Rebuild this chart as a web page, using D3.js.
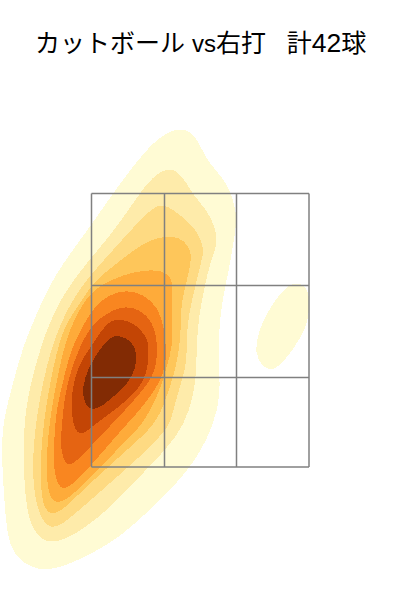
<!DOCTYPE html>
<html><head><meta charset="utf-8">
<script src="https://cdn.jsdelivr.net/npm/d3@7"></script>
<style>html,body{margin:0;padding:0;background:#fff}svg{display:block}</style>
</head><body><svg id="c" width="400" height="600"></svg>
<script>
const titleParts = ["カットボール ","vs","右打\u00a0\u00a0\u00a0計","42","球"];
const titleSizes = [25,24,25,26.5,25];
const zoneX = [-108.5,-35.5,36.5,109];
const zoneY = [0,89.5,181.5,273.5];
const bandColors = ["#fffbd4","#feebaa","#feda82","#fec65a","#feab3a","#f98620","#e56412","#c34505","#822b04"];
const band1 = [[-20,339],[-8,335],[0,322],[8,305],[22,290],[30,277],[35,260],[37,245],[33,222],[29,197],[22,167],[18,127],[19,97],[20,82],[18,57],[7,27],[-7,4],[-23,-16],[-50,-43],[-80,-70],[-107,-86],[-137,-100],[-157,-104],[-177,-97],[-191,-80],[-195,-46],[-199,20],[-196,50],[-187,84],[-177,121],[-163,154],[-146,192],[-110,240],[-87,274],[-57,314],[-37,333]];
const band1b = [[97,185],[108,180],[110,160],[107,140],[93,117],[78,99],[68,96],[57,107],[55,124],[63,147],[75,167],[87,181]];
const band2 = [[-32,299],[-23,296],[-13,284],[-7,272],[7,257],[15,240],[18,224],[10,204],[5,182],[-2,147],[-3,121],[-4,97],[-5,82],[-10,57],[-23,30],[-47,4],[-65,-14],[-87,-38],[-117,-63],[-143,-76],[-158,-74],[-171,-57],[-176,-20],[-177,40],[-170,82],[-159,121],[-147,154],[-125,191],[-87,234],[-63,270],[-47,291]];
const band3 = [[-43,263],[-32,261],[-20,252],[-8,242],[0,230],[4,217],[2,209],[-2,191],[-5,180],[-13,144],[-13,121],[-14,102],[-18,87],[-27,57],[-30,41],[-53,17],[-75,-3],[-115,-38],[-138,-58],[-150,-62],[-161,-49],[-168,-16],[-166,41],[-150,121],[-127,170],[-105,197],[-87,217],[-60,247]];
const band4 = [[-30,230],[-22,230],[-11,222],[-8,209],[-12,191],[-19,164],[-19,147],[-20,121],[-25,97],[-28,87],[-35,65],[-45,42],[-70,20],[-95,-3],[-115,-21],[-135,-41],[-148,-49],[-157,-41],[-160,-13],[-158,41],[-143,121],[-132,147],[-122,160],[-108,184],[-83,204],[-57,224],[-40,230]];
const band5 = [[-37,196],[-29,190],[-27,180],[-29,147],[-27,121],[-33,102],[-37,87],[-43,70],[-58,41],[-75,26],[-95,4],[-115,-16],[-132,-32],[-144,-37],[-151,-29],[-154,-6],[-152,41],[-137,121],[-123,154],[-108,177],[-87,188],[-67,195],[-50,197]];
const band6 = [[-73,177],[-57,173],[-42,160],[-36,140],[-34,121],[-34,107],[-37,92],[-45,77],[-60,57],[-75,41],[-100,12],[-120,-11],[-136,-24],[-143,-17],[-147,2],[-145,41],[-143,60],[-135,94],[-128,121],[-108,159],[-90,173]];
const band7 = [[-80,162],[-60,158],[-47,145],[-42,124],[-44,97],[-53,82],[-70,62],[-90,41],[-110,20],[-125,4],[-135,0],[-140,22],[-138,41],[-136,67],[-130,94],[-120,121],[-107,145]];
const band8 = [[-81,149],[-64,143],[-54,131],[-51,121],[-52,97],[-60,79],[-82,59],[-108,41],[-118,31],[-126,37],[-129,60],[-128,74],[-123,100],[-108,122],[-93,145]];
const band9 = [[-82,132],[-67,126],[-62,109],[-67,90],[-80,76],[-97,61],[-109,56],[-116,64],[-118,79],[-112,99],[-100,118],[-90,130]];

const svg = d3.select("#c");
const x = d3.scaleLinear().domain([-200,200]).range([0,400]);
const y = d3.scaleLinear().domain([-133,467]).range([600,0]);
const outline = d3.line().x(d=>x(d[0])).y(d=>y(d[1])).curve(d3.curveBasisClosed);

const shapes = [
  [band1,0],[band1b,0],[band2,1],[band3,2],[band4,3],[band5,4],[band6,5],[band7,6],[band8,7],[band9,8]
];
svg.append("g").selectAll("path").data(shapes).join("path")
  .attr("d",d=>outline(d[0])).attr("fill",d=>bandColors[d[1]]).attr("shape-rendering","crispEdges");

const grid = svg.append("g").attr("stroke","#808080").attr("stroke-width",1.5).attr("fill","none");
grid.selectAll("line.v").data(zoneX).join("line").attr("class","v")
  .attr("x1",d=>x(d)).attr("x2",d=>x(d)).attr("y1",y(zoneY[0])).attr("y2",y(zoneY[3]));
grid.selectAll("line.h").data(zoneY).join("line").attr("class","h")
  .attr("y1",d=>y(d)).attr("y2",d=>y(d)).attr("x1",x(zoneX[0])).attr("x2",x(zoneX[3]));

const title = svg.append("text").attr("x",35).attr("y",52).attr("xml:space","preserve").style("white-space","pre")
  .attr("font-family","'Liberation Sans','Noto Sans CJK JP',sans-serif").attr("fill","#000");
title.selectAll("tspan").data(titleParts).join("tspan")
  .attr("font-size",(d,i)=>titleSizes[i]).text(d=>d);
</script></body></html>
